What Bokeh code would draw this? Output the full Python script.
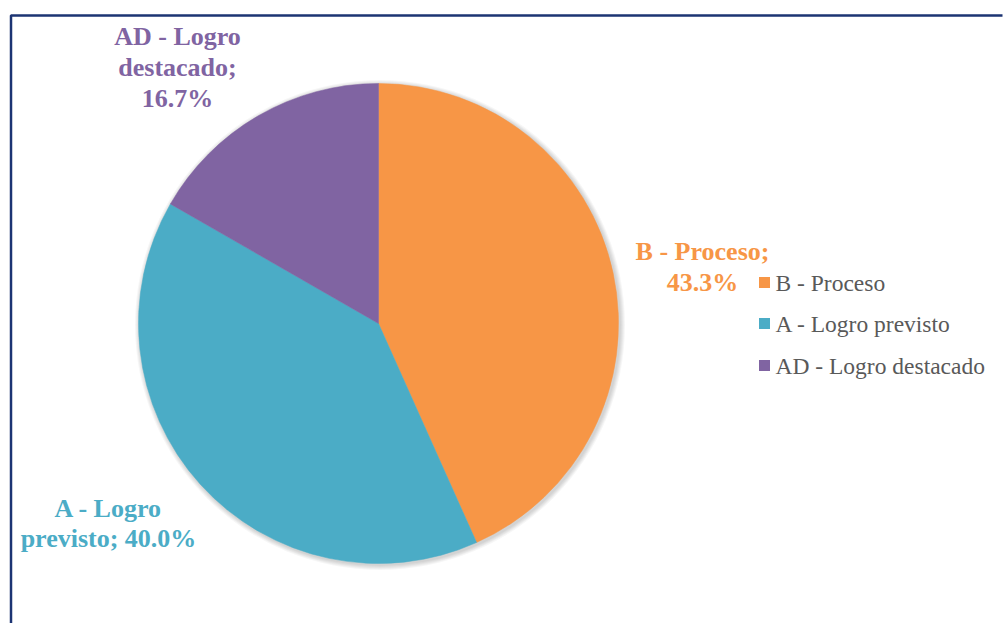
import numpy as np
from bokeh.plotting import figure
from bokeh.models import Range1d, BoxAnnotation, ColumnDataSource
from bokeh.core.properties import value
from bokeh.embed import file_html
from bokeh.resources import INLINE

# ---- data ----
categories = ["B - Proceso", "A - Logro previsto", "AD - Logro destacado"]
percentages = [43.3, 40.0, 16.7]
colors = ["#F79646", "#4BACC6", "#8064A2"]

# label line breaks (as in the reference)
label_lines = [
    ["B - Proceso;", "43.3%"],
    ["A - Logro", "previsto; 40.0%"],
    ["AD - Logro", "destacado;", "16.7%"],
]

W, H = 1003, 623
FONT = value("Liberation Serif")

p = figure(width=W, height=H, output_backend="svg", toolbar_location=None,
           x_range=Range1d(0, W), y_range=Range1d(0, H), min_border=0,
           background_fill_color="white", border_fill_color="white")
p.axis.visible = False
p.grid.visible = False
p.outline_line_color = None


def Y(screen_y):
    return H - screen_y


def X(screen_x):
    return screen_x


# frame border (top and left edges only visible, as in the reference)
p.add_layout(BoxAnnotation(left=X(10.5), right=X(1002) + 60, top=Y(15), bottom=-50,
                           fill_alpha=0, line_color="#1C3473", line_alpha=1,
                           line_width=2.5))
# white strip so the top edge ends at x=1002
p.add_layout(BoxAnnotation(left=X(1002), right=W + 10, top=H + 10, bottom=-10,
                           fill_color="white", fill_alpha=1, line_color=None))

cx, cy, r = X(378), Y(323), 240

# soft shadow
for k in range(5):
    p.circle(x=[cx + 1.5], y=[cy - 1.5], radius=r + 1 + k, fill_color="#000000",
             fill_alpha=0.035, line_color=None)

vals = np.array(percentages, dtype=float)
fr = vals / vals.sum() * 2 * np.pi
cum = np.concatenate([[0], np.cumsum(fr)])
start = np.pi / 2 - cum[:-1]
end = np.pi / 2 - cum[1:]

src = ColumnDataSource(dict(cat=categories, val=percentages, color=colors,
                            start=start, end=end))
p.wedge(x=cx, y=cy, radius=r, start_angle="start", end_angle="end",
        direction="clock", fill_color="color", line_color="color",
        line_width=0.5, source=src)

# data labels
label_pos = [(702, [251, 282]), (108, [508, 538]), (177, [36, 67, 98])]
for lines, (lx, lys), col in zip(label_lines, label_pos, colors):
    p.text(x=[X(lx)] * len(lines), y=[Y(v) for v in lys], text=lines,
           text_font=FONT, text_font_size="26px", text_font_style="bold",
           text_color=col, text_align="center", text_baseline="middle")

# legend
leg_y = [282, 323, 365]
p.scatter(x=[X(764)] * 3, y=[Y(v) for v in leg_y], marker="square", size=11,
          fill_color=colors, line_color=None)
p.text(x=[X(775)] * 3, y=[Y(v) for v in leg_y], text=categories,
       text_font=FONT, text_font_size="23.5px", text_color="#595959",
       text_align="left", text_baseline="middle")

open("out.html", "w").write(file_html(p, INLINE))
